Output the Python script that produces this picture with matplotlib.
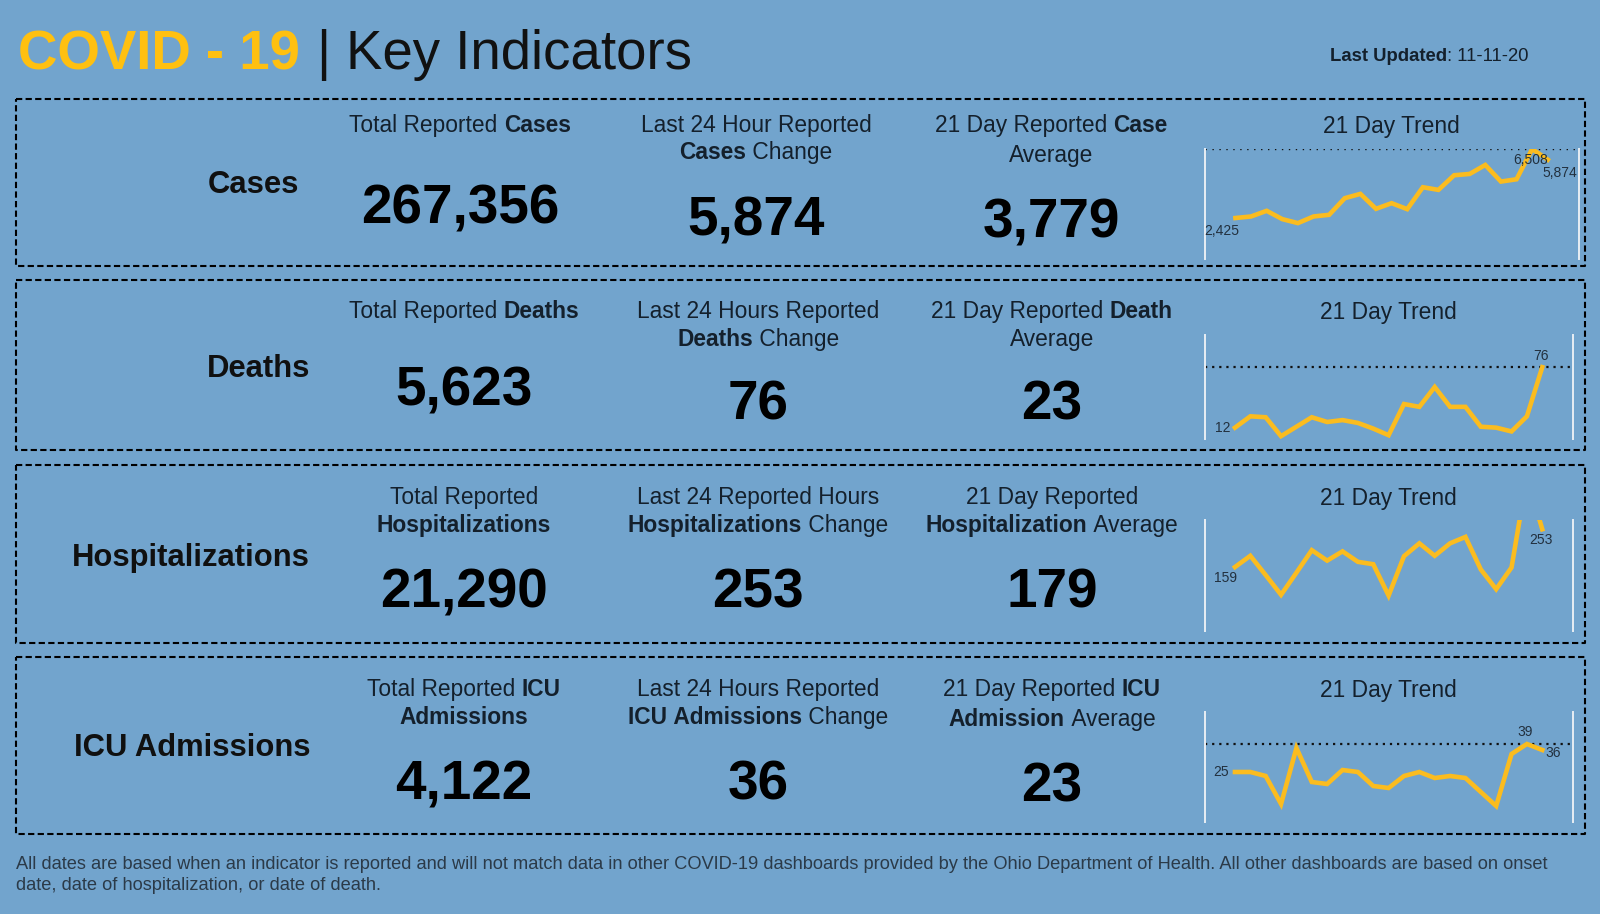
import matplotlib
matplotlib.use('Agg')
import matplotlib.pyplot as plt

plt.rcParams['font.family'] = ['Liberation Sans', 'DejaVu Sans']

BG = '#72a4cd'
GOLD = '#fbbc1f'
INK = '#14202c'
W, H = 1600, 914

row_names = ['Cases', 'Deaths', 'Hospitalizations', 'ICU Admissions']
big_numbers = [['267,356', '5,874', '3,779'],
               ['5,623', '76', '23'],
               ['21,290', '253', '179'],
               ['4,122', '36', '23']]

# header lines, each line is a list of (text, is_bold) runs
headers = [
    [[[('Total Reported ', 0), ('Cases', 1)]],
     [[('Last 24 Hour Reported', 0)], [('Cases', 1), (' Change', 0)]],
     [[('21 Day Reported ', 0), ('Case', 1)], [('Average', 0)]]],
    [[[('Total Reported ', 0), ('Deaths', 1)]],
     [[('Last 24 Hours Reported', 0)], [('Deaths', 1), (' Change', 0)]],
     [[('21 Day Reported ', 0), ('Death', 1)], [('Average', 0)]]],
    [[[('Total Reported', 0)], [('Hospitalizations', 1)]],
     [[('Last 24 Reported Hours', 0)], [('Hospitalizations', 1), (' Change', 0)]],
     [[('21 Day Reported', 0)], [('Hospitalization', 1), (' Average', 0)]]],
    [[[('Total Reported ', 0), ('ICU', 1)], [('Admissions', 1)]],
     [[('Last 24 Hours Reported', 0)], [('ICU Admissions', 1), (' Change', 0)]],
     [[('21 Day Reported ', 0), ('ICU', 1)], [('Admission', 1), (' Average', 0)]]],
]

cases_trend = [2425, 2516, 2851, 2359, 2123, 2516, 2615, 3598, 3853, 2969, 3303,
               2949, 4247, 4089, 4954, 5033, 5564, 4581, 4718, 6508, 5874]
deaths_trend = [12, 24, 23, 3, 13, 23, 18, 20, 17, 11, 4,
                37, 34, 55, 34, 34, 13, 12, 8, 24, 76]
hosp_trend = [159, 187, 139, 90, 145, 201, 175, 198, 172, 166, 88,
              186, 218, 187, 218, 234, 153, 104, 158, 383, 253]
icu_trend = [25, 25, 23, 9, 37, 20, 19, 26, 25, 18, 17,
             23, 25, 22, 23, 22, 15, 8, 34, 39, 36]
trends = [cases_trend, deaths_trend, hosp_trend, icu_trend]
y_tops = [6508, 110, 276, 55]

# layout in reference pixels
boxes = [(99, 266), (280, 450), (465, 643), (657, 834)]
row_label_pos = [(299, 185), (310, 369), (310, 558), (310, 748)]
col_x = [[460, 756, 1051], [464, 758, 1052], [464, 758, 1052], [464, 758, 1052]]
# header baselines
head_y = [[(132, 159), (132, 159), (132, 162)],
          [(318, 346), (318, 346), (318, 346)],
          [(504, 532), (504, 532), (504, 532)],
          [(696, 724), (696, 724), (696, 726)]]
num_y = [[210, 222, 223], [392, 405, 405], [594, 594, 594], [786, 785, 787]]
trend_title = [(1391, 126), (1388, 312), (1388, 498), (1388, 690)]
trend_axes = [(1205, 1579, 149, 259), (1205, 1573, 335, 439),
              (1205, 1573, 520, 631), (1205, 1573, 712, 822)]
# text offset per labelled point: index, dx, dy in points
point_labels = [[(0, -10, -9.5), (19, -1, -8), (20, 9, -9.5)],
                [(0, -9, 0), (20, -1, 8)],
                [(0, -7, -8), (20, -1, -8)],
                [(0, -10, 0), (19, -1, 9), (20, 8, -2)]]
# dotted max line: width, dash pattern
max_line_lw = [1.0, 1.6, 0, 1.6]
max_line_dash = [(1, 4), (1, 2.2), (1, 2.2), (1, 2.2)]

fig = plt.figure(figsize=(W / 100, H / 100), dpi=100, facecolor=BG)
bg = fig.add_axes([0, 0, 1, 1])
bg.set_xlim(0, W)
bg.set_ylim(H, 0)
bg.axis('off')
renderer = fig.canvas.get_renderer()


def mixed_line(x, y, runs, size=16.4):
    # centre a line made of regular and bold pieces, all on one baseline
    parts = []
    total = 0
    for txt, is_bold in runs:
        t = bg.text(0, y, txt.replace(' ', '\u00a0'), fontsize=size, color=INK, va='baseline',
                    fontweight='bold' if is_bold else 'normal')
        w = t.get_window_extent(renderer).width
        parts.append((t, w))
        total += w
    left = x - total / 2
    for t, w in parts:
        t.set_x(left)
        left += w


bg.text(18, 55, 'COVID - 19', fontsize=39.3, fontweight='bold', color='#ffc010', va='center')
bg.text(316, 55, '|', fontsize=39.3, color='#111111', va='center')
bg.text(346, 55, 'Key Indicators', fontsize=39.3, color='#111111', va='center')
mixed_line(1429, 61, [('Last Updated', 1), (': 11-11-20', 0)], size=13.3)

for i, name in enumerate(row_names):
    top, bottom = boxes[i]
    bg.plot([16, 1585, 1585, 16, 16], [top, top, bottom, bottom, top],
            color='black', lw=1.5, ls=(0, (3, 1.6)))
    lx, ly = row_label_pos[i]
    bg.text(lx, ly, name, fontsize=22.3, fontweight='bold', color='#101010', ha='right', va='center')

    for j in range(3):
        for line, y in zip(headers[i][j], head_y[i][j]):
            mixed_line(col_x[i][j], y, line)
        bg.text(col_x[i][j], num_y[i][j], big_numbers[i][j], fontsize=39.5, fontweight='bold',
                color='black', ha='center', va='center')

    tx, ty = trend_title[i]
    bg.text(tx, ty, '21 Day Trend', fontsize=16.4, color=INK, ha='center', va='center')

    x0, x1, y0, y1 = trend_axes[i]
    ax = fig.add_axes([x0 / W, 1 - y1 / H, (x1 - x0) / W, (y1 - y0) / H])
    ax.patch.set_alpha(0)
    ax.set_xlim(-1.95, 22)
    ax.set_ylim(0, y_tops[i])
    ax.set_xticks([])
    ax.set_yticks([])
    for side in ['top', 'bottom']:
        ax.spines[side].set_visible(False)
    for side in ['left', 'right']:
        ax.spines[side].set_color('#e8eef4')
        ax.spines[side].set_linewidth(1.4)
    vals = trends[i]
    if max_line_lw[i] > 0:
        ax.axhline(max(vals), color='#101010', lw=max_line_lw[i], ls=(0, max_line_dash[i]))
    ax.plot(range(21), vals, color=GOLD, lw=3.3, solid_joinstyle='miter')
    for idx, dx, dy in point_labels[i]:
        ax.annotate(f'{vals[idx]:,}', (idx, vals[idx]), xytext=(dx, dy), textcoords='offset points',
                    ha='center', va='center', fontsize=10, color='#22303e', annotation_clip=False)

note = ('All dates are based when an indicator is reported and will not match data in other COVID-19 dashboards '
        'provided by the Ohio Department of Health. All other dashboards are based on onset\n'
        'date, date of hospitalization, or date of death.')
bg.text(16, 875, note, fontsize=13.15, color='#2b3a48', va='center', linespacing=1.3)

fig.savefig('out.png', dpi=100, facecolor=BG)
